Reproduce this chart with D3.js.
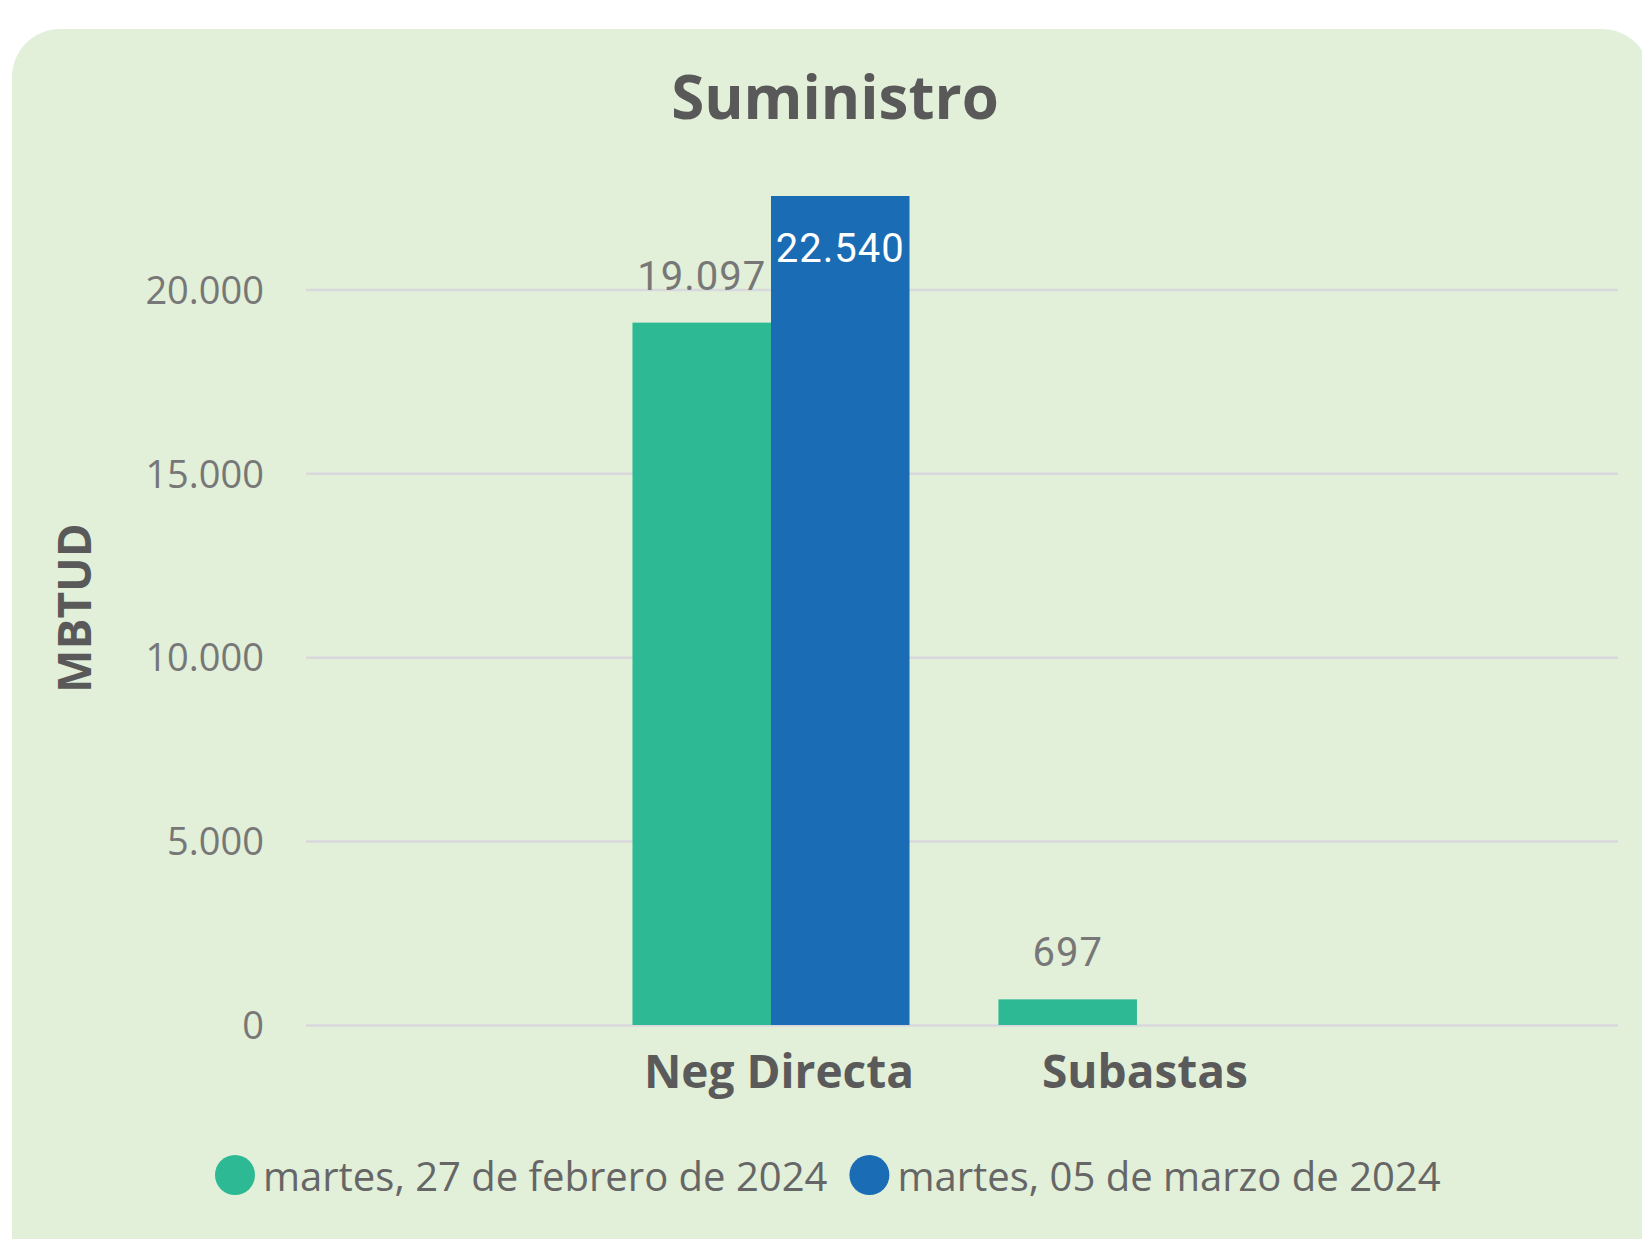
<!DOCTYPE html>
<html>
<head>
<meta charset="utf-8">
<script src="https://cdn.jsdelivr.net/npm/d3@7"></script>
<style>
  body { margin: 0; background: #ffffff; }
  .axis text { font-family: "Open Sans", sans-serif; }
  .y-axis text { font-size: 38px; fill: #777777; }
  .x-axis text { font-size: 46px; font-weight: 700; fill: #5a5a5a; }
  .grid line { stroke: #d9d9dd; stroke-width: 2.5px; }
  .bar-label { font-family: Roboto, sans-serif; font-size: 40px; letter-spacing: 1px; }
  .legend-label { font-family: "Open Sans", sans-serif; font-size: 40px; fill: #666666; }
</style>
</head>
<body>
<svg id="chart"></svg>
<script>
// chart data
const categories = ['Neg Directa', 'Subastas'];
const seriesNames = ['martes, 27 de febrero de 2024', 'martes, 05 de marzo de 2024'];
const feb27Values = [19097, 697];
const mar05Values = [22540, null];
const yTickValues = [0, 5000, 10000, 15000, 20000];

const colors = ['#2cb993', '#1a6db4'];

const config = {
  width: 1642,
  height: 1239,
  plotLeft: 306,
  plotRight: 1618,
  plotBottom: 1025,
  plotTop: 196
};

const locale = d3.formatLocale({ decimal: ',', thousands: '.', grouping: [3], currency: ['', ''] });
const fmt = locale.format(',d');

const rows = categories.map((c, i) => ({
  category: c,
  values: [feb27Values[i], mar05Values[i]]
}));

const svg = d3.select('#chart')
    .attr('width', config.width)
    .attr('height', config.height);

// card background
svg.append('rect')
    .attr('x', 12)
    .attr('y', 29)
    .attr('width', 1638)
    .attr('height', 1300)
    .attr('rx', 48)
    .attr('fill', '#e2efd9');

// title
svg.append('text')
    .attr('x', 835)
    .attr('y', 119)
    .attr('text-anchor', 'middle')
    .style('font-family', '"Open Sans", sans-serif')
    .style('font-size', '60px')
    .style('font-weight', 700)
    .style('fill', '#595959')
    .text('Suministro');

// scales
const x0 = d3.scaleBand()
    .domain(categories)
    .range([config.plotLeft, config.plotRight])
    .paddingInner(0.243)
    .paddingOuter(0.914)
    .align(0.488);

const x1 = d3.scaleBand()
    .domain(d3.range(seriesNames.length))
    .range([0, x0.bandwidth()]);

const yMax = d3.max([...feb27Values, ...mar05Values]);
const y = d3.scaleLinear()
    .domain([0, yMax])
    .range([config.plotBottom, config.plotTop]);

// gridlines
svg.append('g')
    .attr('class', 'grid')
    .attr('transform', `translate(${config.plotLeft},0)`)
    .call(d3.axisLeft(y).tickValues(yTickValues).tickSize(-(config.plotRight - config.plotLeft)).tickFormat(''))
    .call(g => g.select('.domain').remove());

// y axis labels
svg.append('g')
    .attr('class', 'axis y-axis')
    .attr('transform', `translate(${config.plotLeft},0)`)
    .call(d3.axisLeft(y).tickValues(yTickValues).tickSize(0).tickPadding(42).tickFormat(fmt))
    .call(g => g.select('.domain').remove())
    .call(g => g.selectAll('text').attr('dy', '0.36em'));

// y axis title
svg.append('text')
    .attr('transform', 'translate(91,608) rotate(-90)')
    .attr('text-anchor', 'middle')
    .style('font-family', '"Open Sans", sans-serif')
    .style('font-size', '46px')
    .style('font-weight', 700)
    .style('fill', '#595959')
    .text('MBTUD');

// x axis
svg.append('g')
    .attr('class', 'axis x-axis')
    .attr('transform', `translate(0,${config.plotBottom})`)
    .call(d3.axisBottom(x0).tickSize(0).tickPadding(30))
    .call(g => g.select('.domain').remove())
    .call(g => g.selectAll('text').attr('dx', 8));

// bars
const groups = svg.append('g')
  .selectAll('g')
    .data(rows)
  .join('g')
    .attr('transform', d => `translate(${x0(d.category)},0)`);

const barData = d => d.values
    .map((v, i) => ({ value: v, series: i }))
    .filter(b => b.value != null);

groups.selectAll('rect')
    .data(barData)
  .join('rect')
    .attr('x', d => x1(d.series))
    .attr('y', d => y(d.value))
    .attr('width', x1.bandwidth())
    .attr('height', d => y(0) - y(d.value))
    .attr('fill', d => colors[d.series]);

// data labels: above the bar, or inside the top when there is no room
groups.selectAll('text')
    .data(barData)
  .join('text')
    .attr('class', 'bar-label')
    .attr('text-anchor', 'middle')
    .attr('x', d => x1(d.series) + x1.bandwidth() / 2)
    .each(function(d) {
      const inside = y(d.value) - 33 - 30 < config.plotTop;
      d3.select(this)
          .attr('y', inside ? y(d.value) + 66 : y(d.value) - 33)
          .style('fill', inside ? '#ffffff' : '#777777');
    })
    .text(d => fmt(d.value));

// legend
const legend = svg.append('g')
    .attr('transform', 'translate(215,1175)');

let lx = 0;
seriesNames.forEach((name, i) => {
  const item = legend.append('g').attr('transform', `translate(${lx},0)`);
  item.append('circle')
      .attr('cx', 20)
      .attr('cy', 0)
      .attr('r', 20)
      .attr('fill', colors[i]);
  const t = item.append('text')
      .attr('class', 'legend-label')
      .attr('x', 48)
      .attr('y', 16)
      .text(name);
  lx += 48 + t.node().getComputedTextLength() + 22;
});
</script>
</body>
</html>
